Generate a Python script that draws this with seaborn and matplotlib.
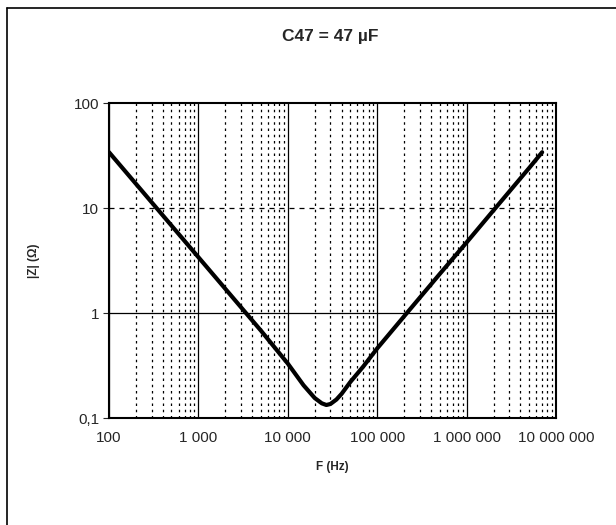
import matplotlib
matplotlib.use("Agg")
import matplotlib.pyplot as plt
import seaborn as sns
import pandas as pd
from matplotlib.lines import Line2D

# Values (impedance of C47 vs frequency)
freq_hz = [100, 200, 500, 1000, 2000, 5000, 10000, 15000, 20000, 24000, 27000,
           30000, 35000, 40000, 50000, 70000, 100000, 200000, 500000,
           1000000, 2000000, 5000000, 7000000]
z_ohm = [34, 17, 6.8, 3.4, 1.7, 0.68, 0.33, 0.205, 0.155, 0.138, 0.133,
         0.136, 0.15, 0.17, 0.22, 0.31, 0.46, 0.93, 2.35,
         4.7, 9.5, 24, 34]

x_ticks = [1e2, 1e3, 1e4, 1e5, 1e6, 1e7]
x_labels = ["100", "1 000", "10 000", "100 000", "1 000 000", "10 000 000"]
y_ticks = [0.1, 1, 10, 100]
y_labels = ["0,1", "1", "10", "100"]

sns.set_style("white")
plt.rcParams["font.family"] = ["Liberation Sans", "DejaVu Sans"]

df = pd.DataFrame({"F": freq_hz, "Z": z_ohm})

fig = plt.figure(figsize=(6.16, 5.25), dpi=100)
ax = fig.add_axes([109 / 616, 1 - 418 / 525, (556 - 109) / 616, (418 - 103) / 525])

ax.set_xscale("log")
ax.set_yscale("log")
ax.set_xlim(1e2, 1e7)
ax.set_ylim(0.1, 100)

# grid: dotted minor verticals, solid major verticals, y=10 dashed, y=1 solid
ax.xaxis.grid(True, which="minor", color="black", linestyle=(0, (2, 3)), linewidth=0.9)
ax.xaxis.grid(True, which="major", color="black", linestyle="-", linewidth=0.9)
ax.axhline(10, color="black", linestyle=(0, (4, 4)), linewidth=0.9)
ax.axhline(1, color="black", linestyle="-", linewidth=0.9)

sns.lineplot(data=df, x="F", y="Z", ax=ax, color="black", linewidth=3)

ax.set_xticks(x_ticks)
ax.set_xticklabels(x_labels, fontsize=11)
ax.set_yticks(y_ticks)
ax.set_yticklabels(y_labels, fontsize=11)
ax.tick_params(axis="y", which="major", length=4, direction="out", left=True, pad=3)
ax.tick_params(axis="y", which="minor", length=0)
ax.tick_params(axis="x", which="both", length=0, pad=9)

for s in ax.spines.values():
    s.set_color("black")
    s.set_linewidth(1.5)

ax.set_xlabel("F (Hz)", fontsize=8.5, fontweight="bold", labelpad=12)
ax.set_ylabel("|Z| (Ω)", fontsize=8.5, fontweight="bold", labelpad=24)
fig.text(330 / 616, 1 - 36 / 525, "C47 = 47 µF", ha="center", va="center",
         fontsize=12.5, fontweight="bold")

# outer frame (left and top edges visible)
fig.add_artist(Line2D([7 / 616, 7 / 616], [0, 1 - 8 / 525], color="black", linewidth=1.2,
                      transform=fig.transFigure))
fig.add_artist(Line2D([7 / 616, 1], [1 - 8 / 525, 1 - 8 / 525], color="black", linewidth=1.2,
                      transform=fig.transFigure))

fig.savefig("out.png", dpi=100)
